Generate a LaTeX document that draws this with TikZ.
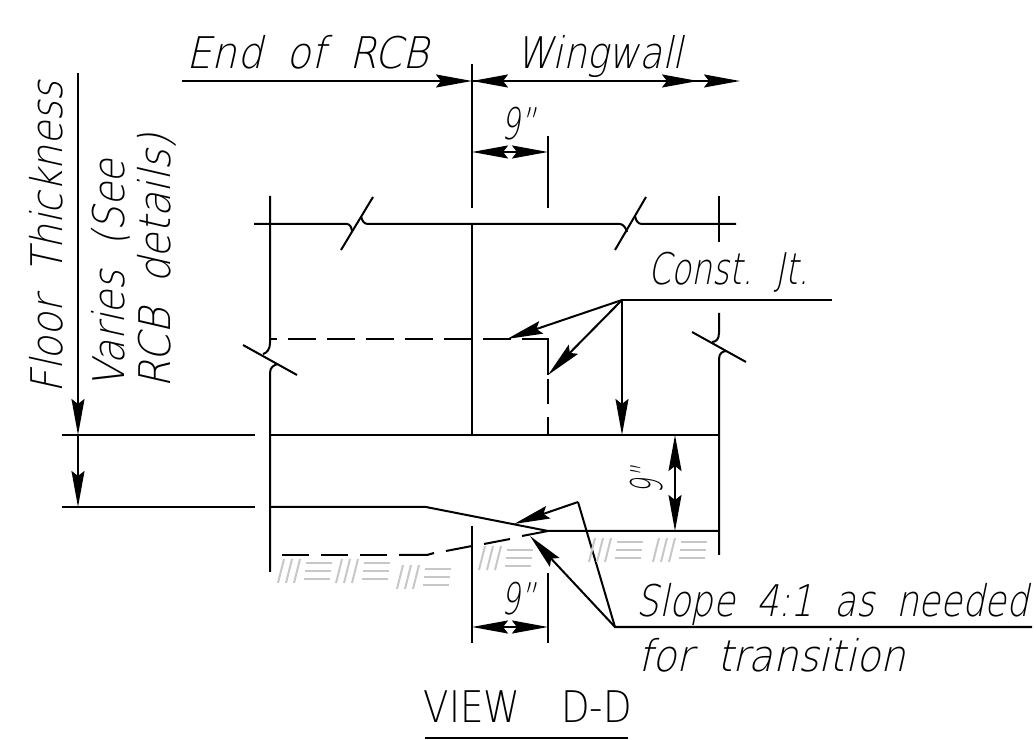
\documentclass[tikz,border=0pt]{standalone}
\usepackage{graphicx}
\usepackage{fontspec}
\usetikzlibrary{arrows.meta}
\setmainfont{DejaVu Sans ExtraLight}[FakeSlant=0.25]
\newfontfamily\viewfont{DejaVu Sans ExtraLight}
\newcommand{\cadfit}[2]{\resizebox{#1}{\height}{\spaceskip=0.6em #2}}
\tikzset{
  cadline/.style={line width=0.02cm,black},
  cadtip/.style={cadline,-{Stealth[length=0.36cm,width=0.13cm,inset=0.05cm]}},
  hatchline/.style={line width=0.02cm,black!22},
  cadtext/.style={font=\fontsize{12.4pt}{14pt}\selectfont,inner sep=0pt}
}
\begin{document}
\begin{tikzpicture}[x=0.01cm,y=-0.01cm]
\useasboundingbox (0,0) rectangle (1036,740);

% Drawing texts
\draw (186,69) node (endrcb) [cadtext,anchor=base west] {\cadfit{2.42cm}{End of RCB}};%
\draw (516,69) node (wingwall) [cadtext,anchor=base west] {\cadfit{1.66cm}{Wingwall}};%
\draw (501,140) node (nineup) [cadtext,anchor=base west] {\cadfit{0.34cm}{9"}};%
\draw (648,285) node (constjt) [cadtext,anchor=base west] {\cadfit{1.60cm}{Const. Jt.}};%
\draw (501,615) node (ninelow) [cadtext,anchor=base west] {\cadfit{0.34cm}{9"}};%
\draw (636,617) node (slope) [cadtext,anchor=base west] {\cadfit{3.92cm}{Slope 4:1 as needed}};%
\draw (638,672) node (transition) [cadtext,anchor=base west] {\cadfit{2.67cm}{for transition}};%
\draw (423,722) node (viewdd) [cadtext,font=\fontsize{12.4pt}{14pt}\viewfont,anchor=base west] {\cadfit{2.08cm}{VIEW\hspace{1.1em}D-D}};%
\draw (63,394) node (floor) [cadtext,rotate=90,anchor=base west] {\cadfit{3.12cm}{Floor Thickness}};%
\draw (124,389) node (varies) [cadtext,rotate=90,anchor=base west] {\cadfit{2.29cm}{Varies (See}};%
\draw (170,389) node (details) [cadtext,rotate=90,anchor=base west] {\cadfit{2.54cm}{RCB details)}};%
\draw (662,494) node (ninewall) [cadtext,rotate=90,anchor=base west] {\cadfit{0.26cm}{9"}};%

% Drawing top dimension
\draw [cadtip] (182,81) -- (472,81);%
\draw [cadtip] (698,81) -- (472,81);%
\draw [cadtip] (472,81) -- (698,81);%
\draw [cadtip] (663,81) -- (740,81);%
\draw [cadline] (472,64) -- (472,208);%
\draw [cadline] (548,136) -- (548,208);%
\draw [cadtip] (512,152) -- (472,152);%
\draw [cadtip] (508,152) -- (548,152);%

% Drawing break line
\draw [cadline] (254,224) -- (347,224) .. controls (350,224) and (352,228) .. (352,232);%
\draw [cadline] (341,250) -- (373,197);%
\draw [cadline] (361,216) .. controls (362,221) and (364,224) .. (368,224) -- (620,224) .. controls (623,224) and (626,228) .. (627,232);%
\draw [cadline] (615,250) -- (646,197);%
\draw [cadline] (635,216) .. controls (636,221) and (638,224) .. (642,224) -- (736,224);%
\draw [cadline] (472,224) -- (472,435);%
\draw [cadline] (719,196) -- (719,242);%

% Drawing left wall
\draw [cadline] (270,196) -- (270,343) .. controls (270,349) and (267,353) .. (263,354);%
\draw [cadline] (243,345) -- (297,375);%
\draw [cadline] (278,364) .. controls (274,365) and (270,367) .. (270,373) -- (270,572);%

% Drawing right wall
\draw [cadline] (719,313) -- (719,333) .. controls (719,339) and (716,342) .. (712,342);%
\draw [cadline] (692,332) -- (746,362);%
\draw [cadline] (727,351) .. controls (723,351) and (719,353) .. (719,359) -- (719,555);%

% Drawing floor
\draw [cadline] (62,435) -- (255,435);%
\draw [cadline] (62,507) -- (255,507);%
\draw [cadline] (270,435) -- (719,435);%
\draw [cadline] (270,507) -- (426,507) -- (548,531) -- (719,531);%

% Drawing dashed joint
\draw [cadline] (270,339) -- (277,339);%
\foreach \x in {288,327,366,405,444,483}
  \draw [cadline] (\x,339) -- (\x+28,339);%
\draw [cadline] (522,339) -- (548,339) -- (548,375);%
\draw [cadline] (548,379) -- (548,404);%
\draw [cadline] (548,417) -- (548,435);%

% Drawing dashed bottom
\foreach \x in {282,321,360}
  \draw [cadline] (\x,555) -- (\x+27,555);%
\draw [cadline] (399,555) -- (427,555) -- (434,553);%
\draw [cadline] (446,551) -- (472,546);%
\draw [cadline] (484,544) -- (510,539);%
\draw [cadline] (522,536) -- (548,531);%

% Drawing floor dimension
\draw [cadline] (78,73) -- (78,400);%
\draw [cadtip] (78,399) -- (78,435);%
\draw [cadtip] (78,435) -- (78,507);%
\draw [cadtip] (675,495) -- (675,435);%
\draw [cadtip] (675,471) -- (675,531);%

% Drawing leaders
\draw [cadline] (832,300) -- (622,300);%
\draw [cadtip] (622,300) -- (507,339);%
\draw [cadtip] (622,300) -- (548,375);%
\draw [cadtip] (622,300) -- (622,435);%
\draw [cadline] (1032,627) -- (615,627) -- (578,502);%
\draw [cadtip] (578,502) -- (514,524);%
\draw [cadtip] (615,627) -- (530,536);%

% Drawing bottom dimension
\draw [cadline] (472,526) -- (472,643);%
\draw [cadline] (548,573) -- (548,643);%
\draw [cadtip] (512,627) -- (472,627);%
\draw [cadtip] (508,627) -- (548,627);%

% Drawing title line
\draw [cadline] (425,738) -- (628,738);%

% Drawing hatching
\foreach \x/\y in {278/583,336/583,397/589,479/570,589/562,653/562}{
  \foreach \s in {0,8,16}
    \draw [hatchline] (\x+\s,\y) -- (\x+\s+6,\y-24);%
  \draw [hatchline] (\x+28,\y-20) -- (\x+54,\y-20);%
  \draw [hatchline] (\x+27,\y-12) -- (\x+53,\y-12);%
  \draw [hatchline] (\x+26,\y-4) -- (\x+52,\y-4);%
}
\end{tikzpicture}
\end{document}
